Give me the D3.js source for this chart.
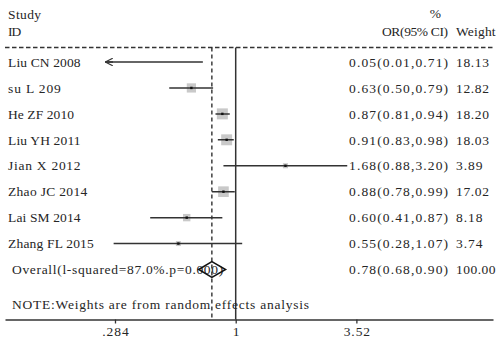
<!DOCTYPE html>
<html>
<head>
<meta charset="utf-8">
<script src="https://cdn.jsdelivr.net/npm/d3@7"></script>
<style>
  html, body { margin: 0; padding: 0; background: #fff; }
  svg text { font-family: "Liberation Serif", "DejaVu Serif", serif; font-size: 13.5px; fill: #262626; }
</style>
</head>
<body>
<svg id="chart" width="498" height="339"></svg>
<script>
// Study-level odds ratios, 95% CIs and random-effects weights
const studies = ["Liu CN 2008", "su L 209", "He ZF 2010", "Liu YH 2011", "Jian X 2012", "Zhao JC 2014", "Lai SM 2014", "Zhang FL 2015"];
const oddsRatio = [0.05, 0.63, 0.87, 0.91, 1.68, 0.88, 0.60, 0.55];
const ciLower = [0.01, 0.50, 0.81, 0.83, 0.88, 0.78, 0.41, 0.28];
const ciUpper = [0.71, 0.79, 0.94, 0.98, 3.20, 0.99, 0.87, 1.07];
const weights = [18.13, 12.82, 18.20, 18.03, 3.89, 17.02, 8.18, 3.74];

// Pooled estimate
const overallLabel = "Overall(l-squared=87.0%.p=0.000)";
const overallEstimate = [0.78];
const overallLower = [0.68];
const overallUpper = [0.90];
const overallWeight = [100.00];

const noteText = "NOTE:Weights are from random effects analysis";
const tickValues = [0.284, 1, 3.52];
const tickLabels = [".284", "1", "3.52"];

const svg = d3.select("#chart");
const f2 = d3.format(".2f");
const CHAR_W = 6.6; // fixed advance per character, typewriter-style

// Text helper: every label is laid out on a fixed-pitch grid
function label(sel) {
  sel.attr("textLength", function () { return this.textContent.length * CHAR_W; })
     .attr("lengthAdjust", "spacing");
  return sel;
}

// Log-scaled effect axis across the full panel width
const x = d3.scaleLog().domain([0.0902, 14.63]).range([5, 493]);
const rowIdx = d3.range(studies.length + 1);
const y = d3.scalePoint().domain(rowIdx).range([62, 269.5]);
const boxSide = d3.scaleSqrt().domain([0, 18.2]).range([0, 11]);

const topY = 47.5, axisY = 319.5;
const plotLeft = 105, plotRight = 493;

// Header
label(svg.append("text").attr("x", 8).attr("y", 19).text("Study"));
label(svg.append("text").attr("x", 8).attr("y", 36).text("ID"));
label(svg.append("text").attr("x", 441).attr("y", 18).attr("text-anchor", "end").text("%"));
label(svg.append("text").attr("x", 448).attr("y", 36).attr("text-anchor", "end").text("OR(95% CI)"));
label(svg.append("text").attr("x", 456).attr("y", 36).text("Weight"));

// Dashed header rule
svg.append("line")
  .attr("x1", 5).attr("x2", 493).attr("y1", topY).attr("y2", topY)
  .attr("stroke", "#333").attr("stroke-width", 1.3).attr("stroke-dasharray", "4.5,2.5");

// Line of no effect
svg.append("line")
  .attr("x1", x(1)).attr("x2", x(1)).attr("y1", topY).attr("y2", axisY)
  .attr("stroke", "#333").attr("stroke-width", 1.5);

// Pooled-estimate reference line
svg.append("line")
  .attr("x1", x(overallEstimate[0])).attr("x2", x(overallEstimate[0]))
  .attr("y1", topY).attr("y2", axisY)
  .attr("stroke", "#222").attr("stroke-width", 1.3).attr("stroke-dasharray", "4,3");

// Clip study marks to the plotting region
const defs = svg.append("defs");
defs.append("clipPath").attr("id", "plotClip")
  .append("rect").attr("x", plotLeft).attr("y", topY).attr("width", plotRight - plotLeft).attr("height", axisY - topY);
defs.append("marker").attr("id", "arrowLeft")
  .attr("viewBox", "0 0 10 10").attr("refX", 1).attr("refY", 5)
  .attr("markerWidth", 5).attr("markerHeight", 5).attr("orient", "auto")
  .append("path").attr("d", "M10,0 L0,5 L10,10").attr("fill", "none").attr("stroke", "#333").attr("stroke-width", 1.6);

const rows = studies.map((s, i) => ({
  name: s, est: oddsRatio[i], lo: ciLower[i], hi: ciUpper[i], w: weights[i], i
}));

const marks = svg.append("g").attr("clip-path", "url(#plotClip)");

// Weight boxes
marks.selectAll("rect.box").data(rows).join("rect").attr("class", "box")
  .attr("x", d => x(d.est) - boxSide(d.w) / 2)
  .attr("y", d => y(d.i) - boxSide(d.w) / 2)
  .attr("width", d => boxSide(d.w))
  .attr("height", d => boxSide(d.w))
  .attr("fill", "#c9c9c9");

// Confidence intervals
marks.selectAll("line.ci").data(rows).join("line").attr("class", "ci")
  .attr("x1", d => x(d.lo)).attr("x2", d => x(d.hi))
  .attr("y1", d => y(d.i)).attr("y2", d => y(d.i))
  .attr("stroke", "#333").attr("stroke-width", 1.5);

// Point estimates
marks.selectAll("rect.pt").data(rows).join("rect").attr("class", "pt")
  .attr("x", d => x(d.est) - 1.2).attr("y", d => y(d.i) - 1.2)
  .attr("width", 2.4).attr("height", 2.4).attr("fill", "#111");

// Arrows where an interval runs past the plotted range
svg.selectAll("line.trunc").data(rows.filter(d => x(d.lo) < plotLeft)).join("line").attr("class", "trunc")
  .attr("x1", plotLeft + 1).attr("x2", plotLeft + 8)
  .attr("y1", d => y(d.i)).attr("y2", d => y(d.i))
  .attr("stroke", "#333").attr("stroke-width", 1.5)
  .attr("marker-start", "url(#arrowLeft)");

// Study labels and statistics
label(svg.selectAll("text.study").data(rows).join("text").attr("class", "study")
  .attr("x", 8).attr("y", d => y(d.i)).attr("dy", "0.35em").text(d => d.name));
label(svg.selectAll("text.orci").data(rows).join("text").attr("class", "orci")
  .attr("x", 448).attr("y", d => y(d.i)).attr("dy", "0.35em").attr("text-anchor", "end")
  .text(d => `${f2(d.est)}(${f2(d.lo)},${f2(d.hi)})`));
label(svg.selectAll("text.wt").data(rows).join("text").attr("class", "wt")
  .attr("x", 456).attr("y", d => y(d.i)).attr("dy", "0.35em").text(d => f2(d.w)));

// Overall row
const oy = y(studies.length);
label(svg.append("text").attr("x", 12).attr("y", oy).attr("dy", "0.35em").text(overallLabel));
svg.append("path")
  .attr("d", `M${x(overallLower[0])},${oy} L${x(overallEstimate[0])},${oy - 8} L${x(overallUpper[0])},${oy} L${x(overallEstimate[0])},${oy + 8} Z`)
  .attr("fill", "none").attr("stroke", "#111").attr("stroke-width", 1.5);
label(svg.append("text").attr("x", 448).attr("y", oy).attr("dy", "0.35em").attr("text-anchor", "end")
  .text(`${f2(overallEstimate[0])}(${f2(overallLower[0])},${f2(overallUpper[0])})`));
label(svg.append("text").attr("x", 456).attr("y", oy).attr("dy", "0.35em").text(f2(overallWeight[0])));

// Note
label(svg.append("text").attr("x", 12).attr("y", 304).attr("dy", "0.35em").text(noteText));

// Axis
const axis = d3.axisBottom(x)
  .tickValues(tickValues)
  .tickFormat((d, i) => tickLabels[i])
  .tickSize(4).tickSizeOuter(0).tickPadding(3);
const gAxis = svg.append("g").attr("transform", `translate(0,${axisY})`).call(axis);
gAxis.select(".domain").attr("stroke", "#333").attr("stroke-width", 1.5);
gAxis.selectAll(".tick line").attr("stroke", "#333").attr("stroke-width", 1.3);
gAxis.selectAll(".tick text")
  .style("font-family", '"Liberation Serif", "DejaVu Serif", serif')
  .style("font-size", "13.5px").attr("fill", "#262626")
  .attr("textLength", function () { return this.textContent.length * CHAR_W; })
  .attr("lengthAdjust", "spacing");
</script>
</body>
</html>
